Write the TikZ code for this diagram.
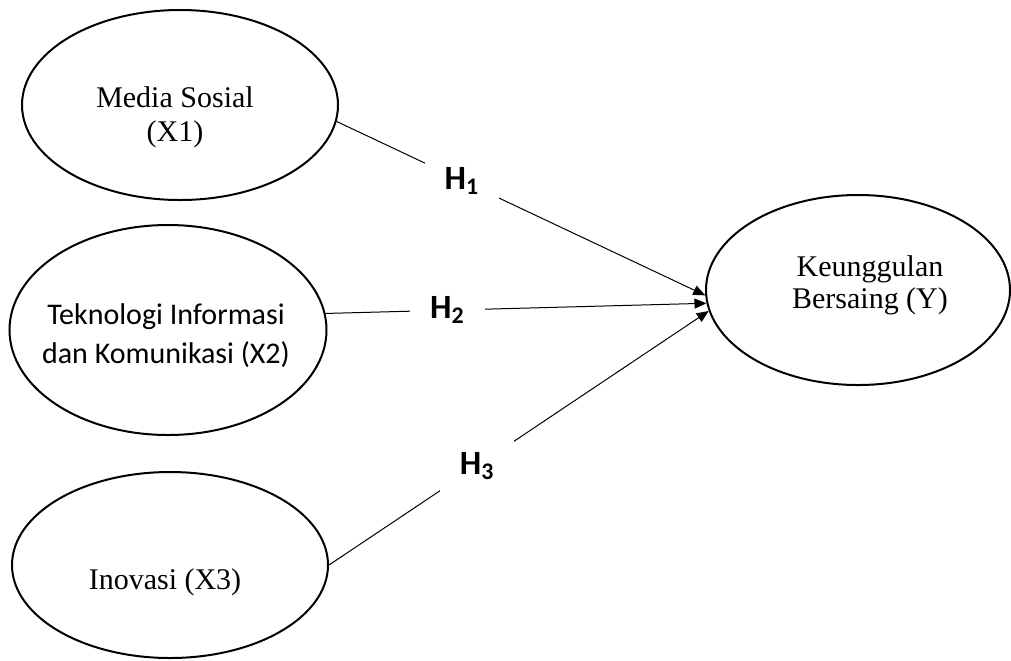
\documentclass[tikz,border=0pt]{standalone}
\usepackage{fontspec}
\setmainfont{Liberation Serif}
\newfontfamily\calib{Carlito}
\usetikzlibrary{shapes.geometric,arrows.meta}

\tikzset{
  var/.style={ellipse, draw, line width=1pt, inner sep=0pt},
  vtext/.style={align=center, font=\fontsize{15}{17}\selectfont},
  hyp/.style={fill=white, inner xsep=10pt, inner ysep=10pt, font=\calib\bfseries\fontsize{17}{20}\selectfont},
  link/.style={-{Triangle[length=6pt,width=5pt]}, line width=0.5pt}
}

\begin{document}
\begin{tikzpicture}[x=0.5pt,y=-0.5pt]
  \useasboundingbox (0,0) rectangle (1011,660);
  %variables
  \node[var, minimum width=158pt, minimum height=95pt] (ms) at (180,105) {};
  \node[var, minimum width=158.5pt, minimum height=105pt] (tik) at (168,330) {};
  \node[var, minimum width=158pt, minimum height=93pt] (ino) at (170,565) {};
  \node[var, minimum width=152pt, minimum height=95pt] (kb) at (858,290) {};
  %texts
  \node[vtext] (mst) at (175,117) {Media Sosial\\(X1)};
  \node[vtext, font=\calib\fontsize{15}{19.5}\selectfont] (tikt) at (166,336) {Teknologi Informasi\\dan Komunikasi (X2)};
  \node[vtext] (inot) at (165,582) {Inovasi (X3)};
  \node[vtext, font=\fontsize{15}{16}\selectfont] (kbt) at (870,285) {Keunggulan\\Bersaing (Y)};
  %hypotheses
  \draw[link] (ms.-6.4) -- node[hyp, pos=0.34] (h1) {H\textsubscript{1}} (kb.-178.9);
  \draw[link] (tik.6.5) -- node[hyp, pos=0.32] (h2) {H\textsubscript{2}} (kb.-175.5);
  \draw[link] (ino.east) -- node[hyp, pos=0.39] (h3) {H\textsubscript{3}} (kb.-172.5);
\end{tikzpicture}
\end{document}
